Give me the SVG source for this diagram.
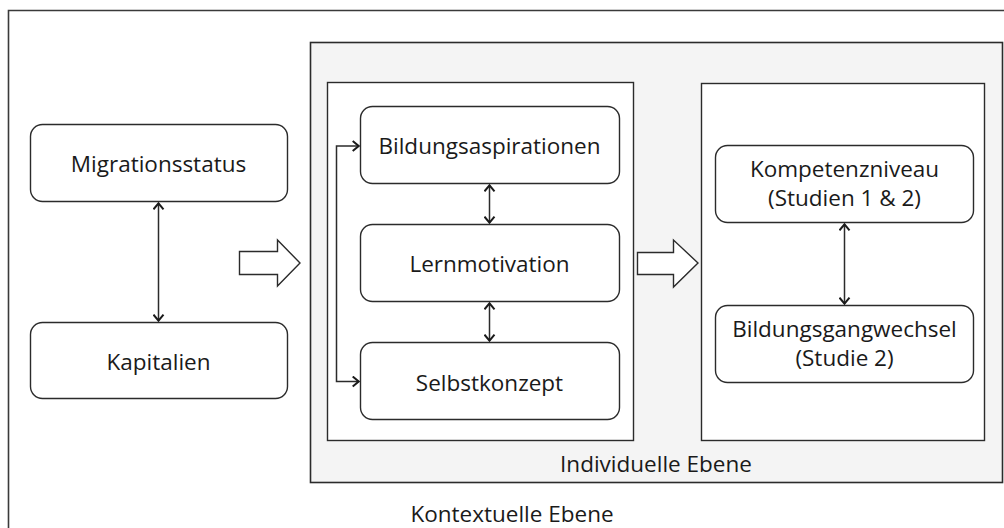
<svg xmlns="http://www.w3.org/2000/svg" width="1004" height="528" viewBox="0 0 1004 528">
<style>
.node{fill:#fff;stroke:#2b2b2b;stroke-width:1.4}
.frame{fill:#fff;stroke:#2b2b2b;stroke-width:1.4}
.panel{fill:#f4f4f4;stroke:#2b2b2b;stroke-width:1.6}
.lbl{font-family:"Open Sans","Liberation Sans",sans-serif;font-size:22.5px;fill:#1a1a1a;text-anchor:middle}
.con{fill:none;stroke:#2b2b2b;stroke-width:1.5}
.block{fill:#fff;stroke:#2b2b2b;stroke-width:1.4;stroke-linejoin:miter}
</style>
<defs>
<marker id="ah" viewBox="0 0 8 12" refX="7.3" refY="6" markerWidth="8" markerHeight="12" markerUnits="userSpaceOnUse" orient="auto-start-reverse">
<path d="M1,1 L7,6 L1,11" fill="none" stroke="#1a1a1a" stroke-width="2"/>
</marker>
</defs>
<rect width="1004" height="528" fill="#fff"/>
<g id="kontext">
<path d="M8.5,528 V10.5 H1004" fill="none" stroke="#3a3a3a" stroke-width="1.6"/>
<text class="lbl" x="512" y="522">Kontextuelle Ebene</text>
</g>
<g id="individuell">
<rect class="panel" x="310.5" y="42.5" width="692" height="440"/>
<text class="lbl" x="656" y="472">Individuelle Ebene</text>
</g>
<g id="gruppe-motivation">
<rect class="frame" x="327.5" y="82.5" width="306" height="358"/>
</g>
<g id="gruppe-ergebnis">
<rect class="frame" x="701.5" y="83.5" width="283" height="357"/>
</g>
<g id="migrationsstatus">
<rect class="node" x="30.5" y="124.5" width="257" height="77" rx="12"/>
<text class="lbl" x="158.5" y="172">Migrationsstatus</text>
</g>
<g id="kapitalien">
<rect class="node" x="30.5" y="322.5" width="257" height="76" rx="12"/>
<text class="lbl" x="158.5" y="370">Kapitalien</text>
</g>
<g id="bildungsaspirationen">
<rect class="node" x="360.5" y="106.5" width="259" height="77" rx="12"/>
<text class="lbl" x="489.5" y="154">Bildungsaspirationen</text>
</g>
<g id="lernmotivation">
<rect class="node" x="360.5" y="224.5" width="259" height="77" rx="12"/>
<text class="lbl" x="489.5" y="272">Lernmotivation</text>
</g>
<g id="selbstkonzept">
<rect class="node" x="360.5" y="342.5" width="259" height="77" rx="12"/>
<text class="lbl" x="489.5" y="391">Selbstkonzept</text>
</g>
<g id="kompetenzniveau">
<rect class="node" x="715.5" y="145.5" width="258" height="77" rx="12"/>
<text class="lbl" x="844.5" y="177">Kompetenzniveau</text>
<text class="lbl" x="844.5" y="206">(Studien 1 &amp; 2)</text>
</g>
<g id="bildungsgangwechsel">
<rect class="node" x="715.5" y="305.5" width="258" height="77" rx="12"/>
<text class="lbl" x="844.5" y="337">Bildungsgangwechsel</text>
<text class="lbl" x="844.5" y="366">(Studie 2)</text>
</g>
<g id="connectors">
<line class="con" x1="158.5" y1="203" x2="158.5" y2="321" marker-start="url(#ah)" marker-end="url(#ah)"/>
<line class="con" x1="489.5" y1="185" x2="489.5" y2="223" marker-start="url(#ah)" marker-end="url(#ah)"/>
<line class="con" x1="489.5" y1="303" x2="489.5" y2="341" marker-start="url(#ah)" marker-end="url(#ah)"/>
<line class="con" x1="844.5" y1="224" x2="844.5" y2="304" marker-start="url(#ah)" marker-end="url(#ah)"/>
<path class="con" d="M359,146 H336.5 V381.5 H359" marker-start="url(#ah)" marker-end="url(#ah)"/>
<polygon class="block" points="239.5,251.5 277.5,251.5 277.5,240 300,263 277.5,286 277.5,274.5 239.5,274.5"/>
<polygon class="block" points="637.5,252.5 673.5,252.5 673.5,240 698,263 673.5,287 673.5,274.5 637.5,274.5"/>
</g>
</svg>
